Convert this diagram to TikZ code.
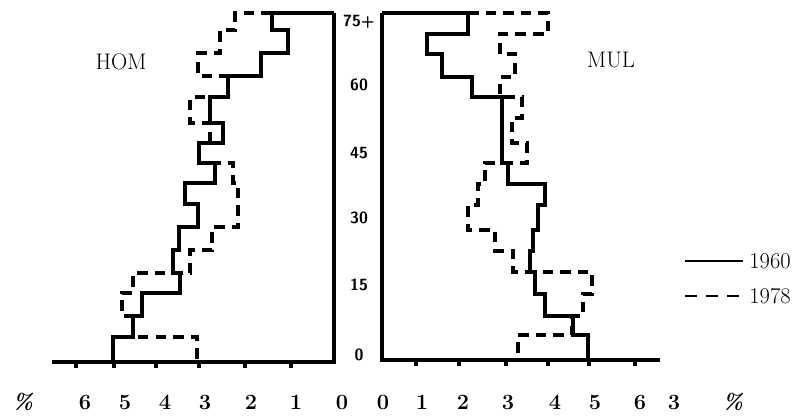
\documentclass[tikz,border=0pt]{standalone}
\usepackage{tikz}
\usetikzlibrary{positioning}
\tikzstyle{axis} = [line width=2.8pt, line join=miter]
\tikzstyle{yrsolid} = [line width=2.8pt, line join=miter]
\tikzstyle{yrdashed} = [line width=2.8pt, dash pattern=on 7.5pt off 5pt]
\tikzstyle{tickmark} = [line width=2.6pt]
\tikzstyle{sexlabel} = [font=\fontsize{16}{19}\selectfont]
\tikzstyle{agelabel} = [font=\sffamily\bfseries\fontsize{11.5}{13}\selectfont]
\tikzstyle{pctlabel} = [font=\bfseries\fontsize{15.5}{18}\selectfont]
\tikzstyle{legendtext} = [font=\fontsize{16}{19}\selectfont, anchor=west]

\begin{document}
\begin{tikzpicture}[x=0.025cm, y=-0.025cm]
\useasboundingbox (0,0) rectangle (799,416);

% Axes
\draw [axis] (52,362) -- (334,362) -- (334,13);
\draw [axis] (382,13) -- (382,360) -- (660,360);
\foreach \x in {76,114,156,199,245,291}
  \draw [tickmark] (\x,362) -- (\x,368);
\foreach \x in {416,459,506,548,589,635}
  \draw [tickmark] (\x,360) -- (\x,366);

% Men, 1960 and 1978
\draw [yrsolid] (334,13) -- (272,13) |- (288,30) |- (261,53) |- (228,76) |- (210,97) |- (223,123) |- (199,143) |- (215,163) |- (185,183) |- (198,204) |- (179,227) |- (173,250) |- (180,273) |- (142,293) |- (133,316) |- (113,337) -- (113,362);
\draw [yrdashed] (272,13) -- (235,13) |- (220,30) |- (198,53) |- (228,76) |- (190,97) |- (210,123) |- (199,143) |- (233,163) |- (238,183) |- (238,204) |- (212,227) |- (190,250) |- (133,273) |- (122,293) |- (133,316) |- (197,337) -- (197,362);

% Women, 1960 and 1978
\draw [yrsolid] (382,13) -- (468,13) |- (427,34) |- (442,54) |- (472,77) |- (502,97) |- (508,163) |- (545,184) |- (538,205) |- (533,230) |- (530,251) |- (535,272) |- (545,294) |- (573,316) |- (588,335) -- (588,360);
\draw [yrdashed] (468,13) -- (548,13) |- (500,34) |- (515,54) |- (500,77) |- (522,97) |- (512,118) |- (527,143) |- (485,163) |- (478,184) |- (468,205) |- (495,230) |- (513,251) |- (592,272) |- (583,294) |- (572,316) |- (518,335) -- (518,360);

% Nodes
\node (hom) [sexlabel] at (121,62) {HOM};
\node (mul) [sexlabel] at (611,60) {MUL};

\foreach \y/\t [count=\i] in {22/75+, 85/60, 153/45, 218/30, 285/15, 355/0}
  \node (age\i) [agelabel] at (359,\y) {\t};

\node (pctl) [pctlabel] at (23,402) {\textit{\%}};
\foreach \x/\t [count=\i] in {85/6, 125/5, 165/4, 205/3, 251/2, 296/1, 342/0}
  \node (pl\i) [pctlabel] at (\x,402) {\t};
\foreach \x/\t [count=\i] in {383/0, 422/1, 463/2, 508/3, 555/4, 595/5, 640/6, 674/3}
  \node (pr\i) [pctlabel] at (\x,402) {\t};
\node (pctr) [pctlabel] at (733,402) {\textit{\%}};

% Legend
\coordinate (lga) at (685,261);
\coordinate (lgb) at (743,261);
\coordinate (lgc) at (685,296);
\coordinate (lgd) at (743,296);
\draw [line width=1.3pt] (lga) -- (lgb);
\draw [line width=1.3pt, dash pattern=on 8.5pt off 6.4pt] (lgc) -- (lgd);
\node (l1960) [legendtext, right=1pt of lgb] {1960};
\node (l1978) [legendtext, right=1pt of lgd] {1978};

\end{tikzpicture}
\end{document}
